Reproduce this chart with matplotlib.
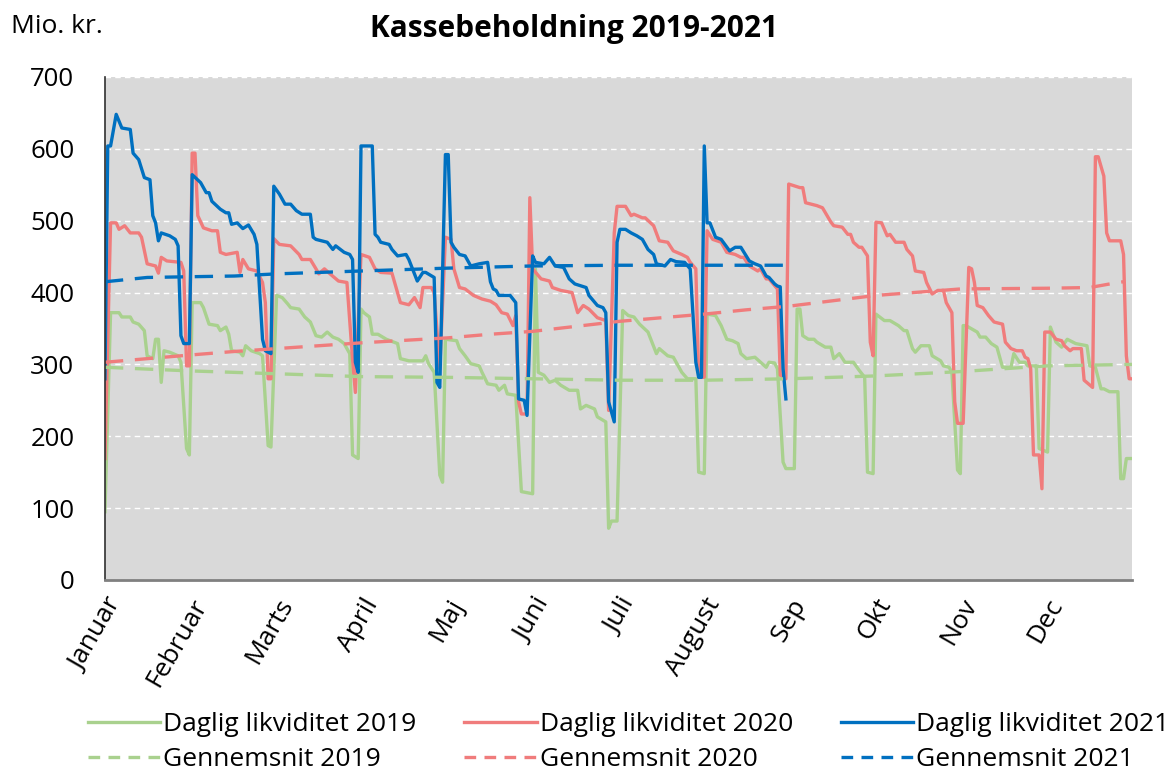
import matplotlib.pyplot as plt

plt.rcParams['font.family'] = ['Open Sans', 'DejaVu Sans']

months = ["Januar", "Februar", "Marts", "April", "Maj", "Juni", "Juli",
          "August", "Sep", "Okt", "Nov", "Dec"]

# daily cash position, mio. kr. (day of year, value)
days19 = [0, 2, 5, 6, 9, 10, 12, 14, 15, 17, 18, 19, 20, 21, 23, 26, 27, 29, 30, 31,
          34, 35, 37, 40, 41, 43, 44, 45, 48, 49, 50, 52, 55, 56, 58, 59, 61, 63, 65, 66,
          69, 71, 73, 75, 77, 79, 81, 83, 85, 87, 88, 90, 91, 92, 94, 95, 97, 100, 104, 105,
          108, 113, 114, 115, 117, 119, 120, 121, 125, 126, 128, 130, 133, 134, 136, 139, 140, 142, 143, 146,
          148, 152, 153, 154, 156, 158, 160, 162, 165, 168, 169, 171, 174, 175, 178, 179, 180, 182, 184, 186,
          188, 190, 193, 194, 196, 197, 200, 202, 204, 205, 207, 210, 211, 213, 214, 217, 219, 221, 223, 225,
          226, 228, 231, 233, 235, 236, 238, 239, 241, 242, 245, 246, 247, 248, 250, 252, 253, 256, 258, 259,
          261, 263, 266, 268, 270, 271, 273, 274, 277, 279, 282, 284, 285, 287, 288, 290, 293, 294, 297, 298,
          300, 301, 303, 304, 305, 306, 310, 311, 313, 315, 317, 319, 322, 323, 325, 327, 328, 331, 332, 335,
          336, 338, 340, 342, 345, 349, 350, 352, 354, 355, 357, 360, 361, 362, 363, 365]
vals19 = [95, 372, 372, 366, 366, 359, 356, 347, 312, 308, 335, 335, 275, 319, 317, 312, 303, 183, 174, 386,
          386, 379, 356, 354, 347, 352, 342, 319, 317, 312, 326, 319, 315, 312, 187, 185, 396, 393, 384, 379,
          377, 366, 359, 340, 338, 345, 338, 335, 329, 315, 174, 169, 377, 372, 366, 342, 342, 335, 329, 308,
          305, 305, 312, 301, 289, 146, 136, 335, 333, 322, 312, 301, 298, 289, 273, 271, 264, 271, 259, 257,
          123, 120, 433, 289, 285, 275, 278, 271, 264, 264, 238, 243, 238, 227, 220, 72, 82, 82, 375, 368,
          366, 356, 345, 335, 315, 322, 312, 310, 296, 289, 280, 280, 150, 148, 370, 368, 354, 335, 333, 329,
          315, 308, 310, 303, 296, 303, 302, 294, 164, 155, 155, 377, 377, 340, 335, 335, 331, 324, 324, 308,
          315, 303, 303, 292, 282, 150, 148, 370, 361, 361, 354, 347, 347, 322, 317, 326, 326, 312, 305, 298,
          296, 289, 153, 148, 354, 354, 345, 338, 338, 329, 324, 296, 296, 315, 303, 303, 298, 298, 183, 178,
          352, 331, 324, 335, 329, 326, 298, 296, 266, 266, 262, 262, 141, 141, 169, 169]

days20 = [0, 2, 4, 5, 7, 9, 12, 13, 15, 18, 19, 20, 22, 27, 28, 29, 30, 31, 32, 33,
          35, 38, 40, 41, 43, 47, 48, 49, 51, 54, 56, 57, 58, 59, 60, 62, 66, 69, 70, 73,
          75, 76, 78, 80, 83, 86, 88, 89, 91, 94, 96, 98, 102, 104, 105, 108, 110, 112, 113, 116,
          117, 119, 121, 123, 124, 126, 128, 131, 134, 137, 139, 141, 143, 145, 146, 147, 148, 150, 151, 152,
          155, 158, 159, 162, 166, 168, 170, 172, 175, 178, 179, 181, 182, 185, 187, 188, 191, 192, 195, 197,
          200, 202, 205, 207, 208, 210, 211, 213, 214, 216, 219, 221, 224, 226, 227, 229, 232, 233, 235, 236,
          239, 240, 242, 243, 247, 248, 249, 251, 253, 255, 258, 259, 262, 264, 265, 266, 268, 269, 271, 272,
          273, 274, 276, 278, 279, 281, 284, 285, 287, 288, 291, 292, 294, 296, 298, 299, 301, 302, 303, 305,
          307, 308, 309, 310, 312, 314, 316, 319, 320, 322, 324, 326, 327, 328, 329, 330, 332, 333, 334, 336,
          338, 340, 341, 343, 344, 347, 348, 351, 352, 353, 355, 356, 357, 361, 362, 363, 364, 365]
vals20 = [169, 497, 497, 488, 493, 483, 483, 477, 440, 437, 427, 449, 444, 442, 430, 298, 298, 594, 594, 507,
          490, 486, 486, 456, 453, 456, 428, 446, 433, 430, 414, 386, 280, 280, 475, 467, 465, 453, 446, 446,
          433, 426, 433, 426, 416, 414, 307, 261, 453, 449, 433, 428, 427, 400, 386, 383, 393, 379, 407, 407,
          400, 294, 477, 474, 433, 407, 405, 396, 391, 388, 383, 372, 370, 354, 368, 248, 231, 231, 532, 433,
          419, 416, 407, 403, 400, 372, 382, 377, 365, 361, 236, 483, 520, 520, 507, 509, 504, 504, 493, 472,
          470, 458, 453, 449, 442, 433, 282, 282, 486, 474, 470, 456, 453, 449, 449, 437, 430, 433, 419, 419,
          405, 285, 280, 551, 546, 546, 525, 523, 521, 518, 498, 493, 491, 481, 481, 470, 463, 463, 451, 331,
          312, 498, 497, 479, 481, 470, 470, 460, 451, 430, 428, 414, 398, 403, 403, 386, 372, 248, 218, 218,
          435, 433, 414, 382, 379, 368, 359, 356, 331, 322, 319, 319, 310, 308, 294, 174, 174, 127, 345, 345,
          335, 333, 326, 319, 322, 322, 278, 268, 589, 589, 562, 483, 472, 472, 453, 312, 280, 280]

days21 = [0, 1, 2, 4, 6, 9, 10, 12, 14, 16, 17, 18, 19, 20, 23, 25, 26, 27, 28, 30,
          31, 34, 36, 37, 38, 41, 43, 44, 45, 47, 49, 51, 53, 54, 56, 57, 59, 60, 62, 64,
          66, 68, 70, 73, 74, 75, 77, 79, 81, 82, 85, 87, 88, 89, 90, 91, 95, 96, 97, 98,
          101, 102, 104, 107, 108, 110, 111, 113, 114, 117, 118, 119, 121, 122, 123, 124, 126, 128, 130, 133,
          136, 137, 138, 139, 140, 144, 146, 147, 149, 150, 152, 153, 156, 158, 160, 163, 165, 167, 171, 172,
          175, 177, 178, 179, 181, 182, 183, 185, 187, 189, 191, 193, 195, 196, 199, 201, 203, 206, 208, 210,
          211, 212, 213, 214, 215, 217, 219, 222, 224, 226, 229, 231, 233, 235, 236, 238, 239, 240, 241, 242]
vals21 = [280, 604, 604, 648, 629, 627, 594, 585, 560, 557, 507, 497, 472, 483, 479, 474, 465, 340, 329, 329,
          564, 553, 539, 539, 527, 516, 511, 511, 495, 497, 489, 494, 481, 467, 335, 319, 315, 548, 537, 523,
          523, 514, 509, 509, 477, 474, 472, 470, 460, 465, 456, 453, 446, 303, 289, 604, 604, 481, 477, 470,
          467, 460, 451, 453, 446, 426, 416, 428, 428, 421, 275, 268, 592, 592, 470, 463, 453, 451, 437, 440,
          442, 415, 405, 403, 396, 396, 386, 252, 250, 229, 451, 442, 440, 449, 437, 435, 419, 412, 407, 396,
          382, 379, 372, 248, 220, 470, 488, 488, 483, 479, 474, 460, 453, 440, 437, 446, 443, 442, 433, 303,
          282, 282, 604, 497, 497, 477, 474, 458, 463, 463, 444, 440, 437, 423, 421, 412, 409, 408, 294, 252]

# running averages
avg19_days = [0, 30, 61, 91, 122, 152, 183, 213, 243, 274, 304, 335, 365]
avg19 = [296, 291, 287, 283, 282, 280, 278, 278, 280, 284, 290, 298, 300]
avg20_days = [0, 30, 46, 61, 91, 122, 137, 152, 183, 213, 228, 243, 274, 304, 335, 350, 360, 362]
avg20 = [303, 313, 318, 322, 330, 337, 342, 346, 360, 370, 376, 381, 396, 405, 406, 407, 414, 415]
avg21_days = [0, 15, 30, 46, 61, 91, 122, 152, 183, 213, 243]
avg21 = [415, 421, 422, 423, 426, 430, 434, 437, 438, 438, 438]

GREEN = "#a9d18e"
RED = "#f07c7c"
BLUE = "#0070c0"

fig = plt.figure(figsize=(11.7, 7.76), dpi=100)
ax = fig.add_axes([0.0897, 0.2526, 0.8778, 0.6482])
ax.set_facecolor("#d9d9d9")

lw = 2.4
dash = (0, (5.5, 3.5))
d19, = ax.plot(days19, vals19, color=GREEN, lw=lw)
d20, = ax.plot(days20, vals20, color=RED, lw=lw)
d21, = ax.plot(days21, vals21, color=BLUE, lw=lw)
g19, = ax.plot(avg19_days, avg19, color=GREEN, lw=lw, linestyle=dash)
g20, = ax.plot(avg20_days, avg20, color=RED, lw=lw, linestyle=dash)
g21, = ax.plot(avg21_days, avg21, color=BLUE, lw=lw, linestyle=dash)

ax.set_xlim(0, 365)
ax.set_ylim(0, 700)
ax.set_yticks(range(0, 701, 100))
ax.yaxis.grid(True, color="white", lw=1.0, linestyle=(0, (4, 3)))
ax.set_axisbelow(True)

month_pos = [i * 365 / 12 for i in range(12)]
ax.set_xticks(month_pos)
ax.set_xticklabels(months, rotation=60, ha="right", rotation_mode="anchor")
ax.set_xticks([i * 365 / 4 for i in range(4)], minor=True)
ax.tick_params(axis="x", which="major", length=0, pad=10, labelsize=19)
ax.tick_params(axis="x", which="minor", length=8, color="#404040", width=1)
ax.tick_params(axis="y", length=0, pad=22, labelsize=18.5)

for s in ["top", "right"]:
    ax.spines[s].set_visible(False)
ax.spines["left"].set_color("#303030")
ax.spines["left"].set_linewidth(1.2)
ax.spines["bottom"].set_color("#808080")
ax.spines["bottom"].set_linewidth(2)

fig.text(0.491, 0.962, "Kassebeholdning 2019-2021", ha="center", va="center",
         fontsize=21.5, fontweight="bold")
fig.text(0.009, 0.966, "Mio. kr.", ha="left", va="center", fontsize=19)

handles = [d19, g19, d20, g20, d21, g21]
labels = ["Daglig likviditet 2019", "Gennemsnit 2019",
          "Daglig likviditet 2020", "Gennemsnit 2020",
          "Daglig likviditet 2021", "Gennemsnit 2021"]
leg = fig.legend(handles, labels, ncol=3, loc="upper left", bbox_to_anchor=(0.075, 0.082),
                 frameon=False, fontsize=19, handlelength=2.75, handletextpad=0.12,
                 columnspacing=1.8, labelspacing=0.36, borderpad=0, borderaxespad=0)
for h in leg.get_lines():
    if h.get_linestyle() != "-":
        h.set_dashes((3.5, 2.5))

fig.savefig("out.png", dpi=100)
